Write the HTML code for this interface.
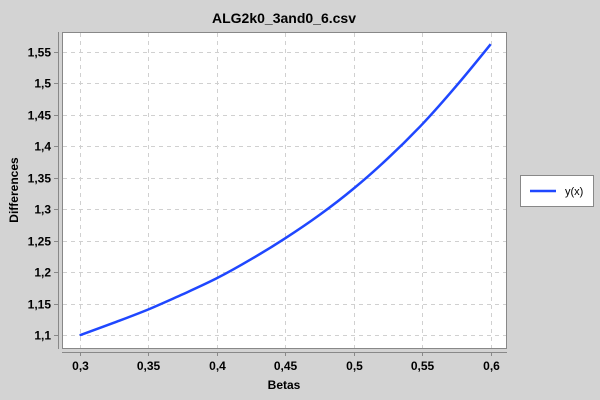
<!DOCTYPE html>
<html><head><meta charset="utf-8"><style>
body{margin:0;background:#d3d3d3;}
svg{display:block;font-family:"Liberation Sans",sans-serif;}
</style></head><body>
<svg width="600" height="400">
<rect width="600" height="400" fill="#d3d3d3"/>
<text x="284" y="23" text-anchor="middle" font-size="14" font-weight="bold">ALG2k0_3and0_6.csv</text>
<rect x="62.5" y="32.5" width="444" height="316" fill="#fff" stroke="#888"/>
<g id="grid"></g>
<g id="axes"></g>
<path id="line" fill="none" stroke="#1f47ff" stroke-width="2.5"/>
<text x="284" y="389" text-anchor="middle" font-size="12" font-weight="bold">Betas</text>
<text transform="translate(18,190) rotate(-90)" text-anchor="middle" font-size="12" font-weight="bold">Differences</text>
<g>
<rect x="520.5" y="175.5" width="73" height="31" fill="#fff" stroke="#888"/>
<line x1="530" y1="191" x2="556" y2="191" stroke="#1f47ff" stroke-width="2.5"/>
<text x="565" y="195" font-size="11">y(x)</text>
</g>
</svg>
<script>
const xs=[0.3,0.325,0.35,0.375,0.4,0.425,0.45,0.475,0.5,0.525,0.55,0.575,0.6];
const ys=[1.1,1.12,1.141,1.165,1.1905,1.2206,1.254,1.291,1.333,1.381,1.435,1.496,1.562];
const xTicks=[0.3,0.35,0.4,0.45,0.5,0.55,0.6];
const yTicks=[1.1,1.15,1.2,1.25,1.3,1.35,1.4,1.45,1.5,1.55];
const NS="http://www.w3.org/2000/svg";
function sx(v){return 79.7+(v-0.3)/0.05*68.5;}
function sy(v){return 335.3-(v-1.1)/0.05*31.5;}
const fmt=v=>String(+v.toFixed(2)).replace('.',',');
const g=document.getElementById('grid'),a=document.getElementById('axes');
function mk(p,tag,at){const e=document.createElementNS(NS,tag);for(const k in at)e.setAttribute(k,at[k]);p.appendChild(e);return e;}
let e=mk(a,'line',{x1:58.5,y1:32,x2:58.5,y2:349,stroke:'#888'});


e=mk(a,'line',{x1:62,y1:352.5,x2:507,y2:352.5,stroke:'#888'});


xTicks.forEach(v=>{const x=Math.round(sx(v))+0.5;
 let l=mk(g,'line',{x1:x,y1:33,x2:x,y2:348,stroke:'#d0d0d0','stroke-dasharray':'4,4'});
 
 
 mk(a,'line',{x1:x,y1:352,x2:x,y2:356,stroke:'#888'});
 let t=mk(a,'text',{x:x,y:370,'text-anchor':'middle','font-size':12,'font-weight':'bold'});t.textContent=fmt(v);
 
 
});
yTicks.forEach(v=>{const y=Math.round(sy(v))+0.5;
 let l=mk(g,'line',{x1:63,y1:y,x2:506,y2:y,stroke:'#d0d0d0','stroke-dasharray':'4,4'});
 
 
 mk(a,'line',{x1:54,y1:y,x2:58,y2:y,stroke:'#888'});
 let t=mk(a,'text',{x:51,y:y+4,'text-anchor':'end','font-size':12,'font-weight':'bold'});t.textContent=fmt(v);
 
 
});
const P=xs.map((v,i)=>[sx(v),sy(ys[i])]);
let d='M'+P[0][0].toFixed(1)+','+P[0][1].toFixed(1);
for(let i=0;i<P.length-1;i++){
 const p0=P[Math.max(0,i-1)],p1=P[i],p2=P[i+1],p3=P[Math.min(P.length-1,i+2)];
 const c1=[p1[0]+(p2[0]-p0[0])/6,p1[1]+(p2[1]-p0[1])/6];
 const c2=[p2[0]-(p3[0]-p1[0])/6,p2[1]-(p3[1]-p1[1])/6];
 d+='C'+c1.map(n=>n.toFixed(1)).join(',')+' '+c2.map(n=>n.toFixed(1)).join(',')+' '+p2.map(n=>n.toFixed(1)).join(',');
}
document.getElementById('line').setAttribute('d',d);
</script>
</body></html>
